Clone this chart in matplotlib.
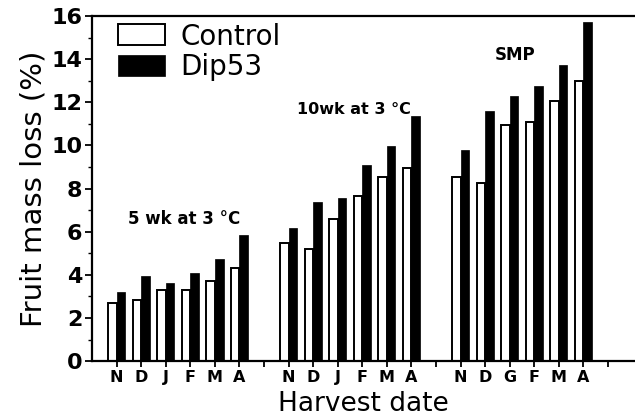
import numpy as np
import matplotlib
matplotlib.use("Agg")
import matplotlib.pyplot as plt
from matplotlib.ticker import MultipleLocator
import matplotlib.transforms as mtransforms

# data
group_names = ["5 wk at 3 °C", "10wk at 3 °C", "SMP"]
group_months = [["N", "D", "J", "F", "M", "A"],
                ["N", "D", "J", "F", "M", "A"],
                ["N", "D", "G", "F", "M", "A"]]
control = [[2.70, 2.83, 3.32, 3.28, 3.70, 4.31],
           [5.50, 5.18, 6.59, 7.65, 8.55, 8.95],
           [8.55, 8.27, 10.96, 11.07, 12.07, 12.97]]
dip53 = [[3.21, 3.96, 3.63, 4.11, 4.73, 5.83],
         [6.18, 7.36, 7.55, 9.08, 9.99, 11.38],
         [9.77, 11.58, 12.29, 12.75, 13.73, 15.72]]

fig = plt.figure(figsize=(6.35, 4.2), dpi=100)
ax = fig.add_axes([0.145, 0.14, 0.855, 0.822])

w = 0.35
ticks = []
ticklabels = []
for g in range(3):
    x = np.arange(6) + g * 7
    ax.bar(x - w, control[g], width=w, align="edge", color="white",
           edgecolor="black", linewidth=1.4,
           label="Control" if g == 0 else None)
    ax.bar(x, dip53[g], width=w, align="edge", color="black",
           edgecolor="black", linewidth=0.5,
           label="Dip53" if g == 0 else None)
    ticks += list(x) + [g * 7 + 6]
    ticklabels += group_months[g] + [""]

ax.set_xlim(-1.0, 21.1)
ax.set_ylim(0, 16)
ax.set_xticks(ticks)
ax.set_xticklabels(ticklabels, fontsize=11.5, fontweight="bold")
offset = mtransforms.ScaledTranslation(-3 / 100, 0, fig.dpi_scale_trans)
for lab in ax.get_xticklabels():
    lab.set_transform(lab.get_transform() + offset)

ax.yaxis.set_major_locator(MultipleLocator(2))
ax.yaxis.set_minor_locator(MultipleLocator(1))
ax.tick_params(axis="y", which="major", direction="out", length=5, width=1.3,
               labelsize=16, pad=2)
ax.tick_params(axis="y", which="minor", direction="out", length=3, width=1.0)
ax.tick_params(axis="x", which="major", direction="out", length=4, width=1.3, pad=2)
for lab in ax.get_yticklabels():
    lab.set_fontweight("bold")

ax.spines["right"].set_visible(False)
for s in ["left", "bottom", "top"]:
    ax.spines[s].set_linewidth(1.6)

ax.set_ylabel("Fruit mass loss (%)", fontsize=21, labelpad=3)
ax.set_xlabel("Harvest date", fontsize=19, labelpad=5)

# group annotations
ax.text(0.45, 6.6, group_names[0], fontsize=12, fontweight="bold", ha="left", va="center")
ax.text(7.35, 11.65, group_names[1], fontsize=11.5, fontweight="bold", ha="left", va="center")
ax.text(15.4, 14.2, group_names[2], fontsize=12, fontweight="bold", ha="left", va="center")

ax.legend(loc="upper left", bbox_to_anchor=(0.02, 1.025), frameon=False,
          fontsize=20, handlelength=1.7, handleheight=0.78,
          handletextpad=0.55, labelspacing=0.1, borderaxespad=0.15)

fig.savefig("out.png", dpi=100)
